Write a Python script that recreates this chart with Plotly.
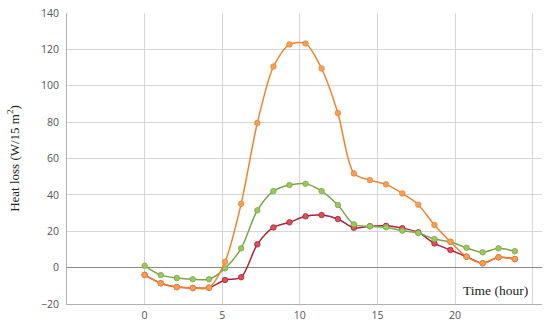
'''
Heat loss over the day, three cases
'''

import plotly.graph_objects as go

# readings
hours = [0, 1.04, 2.07, 3.1, 4.15, 5.18, 6.22, 7.26, 8.3, 9.33, 10.37, 11.4,
         12.45, 13.48, 14.52, 15.55, 16.6, 17.63, 18.67, 19.7, 20.74, 21.78,
         22.8, 23.85]

orangeLoss = [-4, -8.6, -10.7, -11.2, -11, 3.2, 35.1, 79.5, 110.6, 122.7, 123.2,
              109.5, 85, 51.8, 48.1, 45.8, 40.8, 34.6, 23.4, 14.2, 6.0, 2.4,
              5.7, 4.7]
greenLoss = [1.0, -4.1, -5.7, -6.4, -6.4, -0.4, 10.6, 31.5, 42.1, 45.4, 46.1,
             42.1, 34.4, 23.8, 22.7, 22.2, 20.3, 19.0, 15.7, 14.2, 10.9, 8.4,
             10.6, 9.0]
redLoss = [-4, -8.6, -10.7, -11.2, -11, -6.8, -5.3, 12.8, 22.1, 24.9, 28.2,
           28.9, 26.7, 21.9, 22.8, 23.0, 21.7, 19.4, 13.3, 9.7, 6.0, 2.4,
           5.7, 4.7]

xTicks = [-5, 0, 5, 10, 15, 20, 25]
xTickText = ['', '0', '5', '10', '15', '20', '']

redLine, redMarker = '#a32638', '#d9505e'
greenLine, greenMarker = '#7fa34c', '#9cc85c'
orangeLine, orangeMarker = '#ee8330', '#f7a055'

fig = go.Figure()
for values, lineColor, markerColor in [
        (redLoss, redLine, redMarker),
        (greenLoss, greenLine, greenMarker),
        (orangeLoss, orangeLine, orangeMarker)]:
    fig.add_trace(go.Scatter(
        x=hours, y=values,
        mode='lines+markers',
        line=dict(color=lineColor, width=1.5, shape='spline', smoothing=0.8),
        marker=dict(color=markerColor, size=5.5,
                    line=dict(color=lineColor, width=0.8)),
        showlegend=False,
    ))

fig.update_layout(
    width=550, height=321,
    margin=dict(l=67, r=8, t=13, b=17),
    plot_bgcolor='white',
    paper_bgcolor='white',
    font=dict(family='Open Sans', size=10.5, color='#555555'),
    annotations=[dict(
        text='Time (hour)', xref='paper', yref='paper',
        x=0.975, y=0.015, xanchor='right', yanchor='bottom',
        showarrow=False,
        font=dict(family='Liberation Serif', size=13.5, color='#222222'),
    )],
)
fig.update_xaxes(
    range=[-5, 25.6],
    tickvals=xTicks, ticktext=xTickText,
    showgrid=True, gridcolor='#d6d6d6', gridwidth=1.3,
    showline=True, linecolor='#b0b0b0',
    zeroline=False, automargin=False,
    ticks='', ticklen=0, ticklabelstandoff=1,
)
fig.update_yaxes(
    range=[-20, 140], dtick=20,
    showgrid=True, gridcolor='#d6d6d6', gridwidth=1.3,
    showline=True, linecolor='#b0b0b0',
    zeroline=True, zerolinecolor='#8a8a8a', zerolinewidth=1.3,
    automargin=False,
    ticks='', ticklen=0, ticklabelstandoff=5,
    title=dict(text='Heat loss (W/15 m<sup>2</sup>)', standoff=18,
               font=dict(family='Liberation Serif', size=13, color='#222222')),
)

# drop the page's default body margin so the figure sits at the corner
fig.write_html("out.html",
               config={'displayModeBar': False},
               post_script="document.body.style.margin='0';")
